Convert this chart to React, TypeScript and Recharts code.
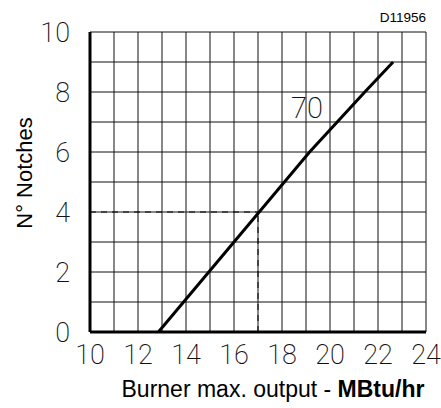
import { CartesianGrid, Line, LineChart, ReferenceLine, XAxis, YAxis, Label } from 'recharts';

const OUTPUT = [12.85, 14.95, 17.05, 19.15, 21.45, 22.63];
const NOTCHES = [0, 2, 4, 6, 8, 9];
const X_TICKS = [10, 12, 14, 16, 18, 20, 22, 24];
const Y_TICKS = [0, 2, 4, 6, 8, 10];
const X_GRID = [10, 11, 12, 13, 14, 15, 16, 17, 18, 19, 20, 21, 22, 23, 24];
const Y_GRID = [0, 1, 2, 3, 4, 5, 6, 7, 8, 9, 10];
const READ_X = 17;
const READ_Y = 4;
const CURVE_LABEL = '70';
const CODE = 'D11956';

const data = OUTPUT.map((x, i) => ({ x, y: NOTCHES[i] }));

const tickFont = { fontFamily: 'Roboto', fontWeight: 200, fontSize: 27, fill: '#111' };

export default function App() {
  return (
    <div style={{ position: 'absolute', left: 0, top: 0, background: '#fff' }}>
      <LineChart width={441} height={408} data={data} margin={{ top: 32, right: 15, left: 30, bottom: 36 }}>
        <CartesianGrid
          stroke="#111"
          strokeWidth={1}
          horizontalValues={Y_GRID}
          verticalValues={X_GRID}
        />
        <XAxis
          type="number"
          dataKey="x"
          domain={[10, 24]}
          ticks={X_TICKS}
          tickLine={false}
          axisLine={{ stroke: '#000', strokeWidth: 3 }}
          tick={tickFont}
          tickMargin={7}
          height={40}
          interval={0}
        >
          <Label
            position="insideBottom"
            content={() => (
              <text x={273} y={397} textAnchor="middle" fontFamily="Liberation Sans, Arial" fontSize={23} fill="#000">
                Burner max. output - <tspan fontWeight="bold">MBtu/hr</tspan>
              </text>
            )}
          />
        </XAxis>
        <YAxis
          type="number"
          domain={[0, 10]}
          ticks={Y_TICKS}
          tickLine={false}
          axisLine={{ stroke: '#000', strokeWidth: 3 }}
          tick={tickFont}
          tickMargin={14}
          width={60}
          interval={0}
        >
          <Label
            content={() => (
              <text
                x={24}
                y={173}
                transform="rotate(-90 24 173)"
                textAnchor="middle"
                dominantBaseline="central"
                fontFamily="Liberation Sans, Arial"
                fontSize={22}
                fill="#000"
              >
                N° Notches
              </text>
            )}
          />
        </YAxis>
        <ReferenceLine
          segment={[{ x: 10, y: READ_Y }, { x: READ_X, y: READ_Y }]}
          stroke="#000"
          strokeWidth={1}
          strokeDasharray="6 5"
        />
        <ReferenceLine
          segment={[{ x: READ_X, y: 0 }, { x: READ_X, y: READ_Y }]}
          stroke="#000"
          strokeWidth={1}
          strokeDasharray="6 5"
        />
        <Line
          type="linear"
          dataKey="y"
          stroke="#000"
          strokeWidth={3}
          dot={false}
          isAnimationActive={false}
        />
        <ReferenceLine y={7.4} stroke="none" ifOverflow="visible">
          <Label
            content={() => (
              <text x={307} y={108} textAnchor="middle" dominantBaseline="central" {...tickFont} fontSize={29}>
                {CURVE_LABEL}
              </text>
            )}
          />
        </ReferenceLine>
        <text x={426} y={22} textAnchor="end" fontFamily="Liberation Sans, Arial" fontSize={13.5} fill="#000">
          {CODE}
        </text>
      </LineChart>
    </div>
  );
}
